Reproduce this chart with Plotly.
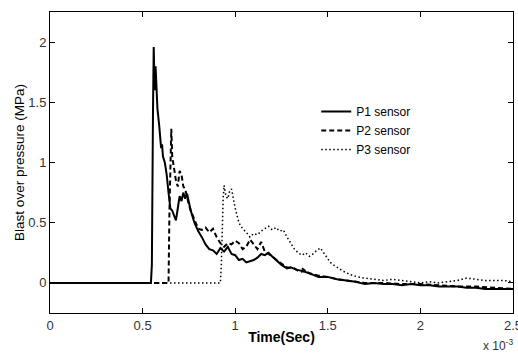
import plotly.graph_objects as go

# time in units of 1e-3 s
t_p1 = [0, 0.545, 0.550, 0.552, 0.556, 0.560, 0.565, 0.570, 0.575, 0.58, 0.59, 0.60, 0.605, 0.61, 0.62,
        0.63, 0.64, 0.65, 0.66, 0.67, 0.68, 0.69, 0.70, 0.71, 0.72, 0.73, 0.74, 0.75, 0.76, 0.78, 0.80,
        0.82, 0.84, 0.86, 0.88, 0.90, 0.92, 0.94, 0.96, 0.98, 1.00, 1.02, 1.04, 1.06, 1.08, 1.10, 1.12,
        1.14, 1.16, 1.18, 1.20, 1.22, 1.25, 1.28, 1.30, 1.33, 1.36, 1.40, 1.45, 1.50, 1.55, 1.60, 1.65,
        1.70, 1.75, 1.80, 1.85, 1.90, 1.95, 2.00, 2.05, 2.10, 2.15, 2.20, 2.25, 2.30, 2.35, 2.40, 2.45, 2.50]
p1 = [0, 0, 0.15, 1.1, 1.4, 1.96, 1.6, 1.8, 1.55, 1.45, 1.3, 1.12, 1.15, 1.05, 1.0,
      0.9, 0.75, 0.62, 0.6, 0.55, 0.52, 0.62, 0.72, 0.68, 0.75, 0.7, 0.74, 0.67, 0.6, 0.5, 0.43,
      0.38, 0.32, 0.28, 0.27, 0.24, 0.29, 0.26, 0.30, 0.24, 0.23, 0.19, 0.2, 0.17, 0.18, 0.19, 0.21,
      0.24, 0.23, 0.25, 0.22, 0.19, 0.15, 0.12, 0.13, 0.11, 0.10, 0.08, 0.05, 0.05, 0.03, 0.02, 0.01,
      -0.01, 0.0, -0.01, -0.01, -0.02, -0.01, -0.02, -0.02, -0.03, -0.03, -0.03, -0.04, -0.04, -0.05, -0.05, -0.05, -0.05]

t_p2 = [0, 0.64, 0.645, 0.65, 0.655, 0.66, 0.665, 0.67, 0.68, 0.69, 0.70, 0.71, 0.72, 0.73, 0.74,
        0.75, 0.76, 0.78, 0.80, 0.82, 0.84, 0.86, 0.88, 0.90, 0.92, 0.94, 0.96, 0.98, 1.00, 1.02,
        1.04, 1.06, 1.08, 1.10, 1.12, 1.14, 1.16, 1.18, 1.20, 1.24, 1.28, 1.32, 1.35, 1.38, 1.36,
        1.40, 1.45, 1.50, 1.55, 1.60, 1.70, 1.80, 1.90, 2.00, 2.10, 2.20, 2.30, 2.40, 2.50]
p2 = [0, 0, 0.6, 1.0, 1.28, 1.05, 1.0, 0.95, 0.85, 0.8, 0.93, 0.9, 0.8, 0.78, 0.7,
      0.65, 0.6, 0.52, 0.45, 0.44, 0.46, 0.42, 0.45, 0.38, 0.33, 0.3, 0.33, 0.32, 0.35, 0.33,
      0.28, 0.3, 0.36, 0.32, 0.28, 0.34, 0.26, 0.24, 0.22, 0.17, 0.13, 0.12, 0.09, 0.10, 0.12,
      0.08, 0.06, 0.05, 0.03, 0.02, 0.0, 0.0, -0.01, -0.01, -0.02, -0.03, -0.03, -0.04, -0.05]

t_p3 = [0, 0.92, 0.925, 0.93, 0.935, 0.94, 0.95, 0.96, 0.97, 0.98, 0.99, 1.00, 1.02, 1.04, 1.06,
        1.08, 1.10, 1.12, 1.14, 1.16, 1.18, 1.20, 1.22, 1.24, 1.26, 1.28, 1.30, 1.32, 1.34, 1.36,
        1.38, 1.40, 1.42, 1.44, 1.46, 1.48, 1.50, 1.52, 1.55, 1.58, 1.62, 1.66, 1.70, 1.75, 1.80,
        1.85, 1.90, 1.95, 2.0, 2.05, 2.1, 2.15, 2.2, 2.25, 2.3, 2.35, 2.4, 2.45, 2.5]
p3 = [0, 0, 0.15, 0.5, 0.7, 0.81, 0.72, 0.7, 0.76, 0.78, 0.7, 0.62, 0.5, 0.45, 0.42,
      0.38, 0.41, 0.40, 0.43, 0.45, 0.47, 0.44, 0.46, 0.43, 0.44, 0.38, 0.33, 0.28, 0.25, 0.23,
      0.25, 0.22, 0.24, 0.27, 0.29, 0.24, 0.2, 0.16, 0.13, 0.1, 0.07, 0.05, 0.04, 0.03, 0.02,
      0.03, 0.02, 0.01, 0.0, 0.01, 0.0, 0.01, 0.02, 0.04, 0.03, 0.02, 0.02, 0.02, 0.01]

x_ticks = [0, 0.5, 1, 1.5, 2, 2.5]
x_tick_labels = ["0", "0.5", "1", "1.5", "2", "2.5"]
y_ticks = [0, 0.5, 1, 1.5, 2]
y_tick_labels = ["0", "0.5", "1", "1.5", "2"]

FONT = "Liberation Sans, Arial, sans-serif"

fig = go.Figure()
fig.add_trace(go.Scatter(x=t_p1, y=p1, mode="lines", name="P1 sensor",
                         line=dict(color="black", width=2)))
fig.add_trace(go.Scatter(x=t_p2, y=p2, mode="lines", name="P2 sensor",
                         line=dict(color="black", width=2, dash="5px,3px")))
fig.add_trace(go.Scatter(x=t_p3, y=p3, mode="lines", name="P3 sensor",
                         line=dict(color="black", width=1.5, dash="1.5px,2.5px")))

axis_common = dict(showline=True, linecolor="black", linewidth=1, mirror="ticks",
                   ticks="inside", ticklen=5, tickcolor="black", showgrid=False,
                   zeroline=False, ticklabeloverflow="allow", automargin=False,
                   tickfont=dict(family=FONT, size=13, color="#333"))

fig.update_layout(
    width=518, height=354,
    margin=dict(l=50, r=5, t=12, b=41),
    paper_bgcolor="white", plot_bgcolor="white",
    font=dict(family=FONT, color="black"),
    xaxis=dict(range=[0, 2.5], tickvals=x_ticks, ticktext=x_tick_labels,
               title=dict(text="<b>Time(Sec)</b>", font=dict(size=14), standoff=0),
               **axis_common),
    yaxis=dict(range=[-0.25, 2.25], tickvals=y_ticks, ticktext=y_tick_labels,
               title=dict(text="Blast over pressure (MPa)", font=dict(size=13.5), standoff=0),
               **axis_common),
    legend=dict(x=0.575, y=0.718, xanchor="left", yanchor="top",
                bgcolor="rgba(0,0,0,0)", borderwidth=0, itemwidth=30,
                font=dict(family=FONT, size=12), tracegroupgap=0),
    showlegend=True,
)
fig.add_annotation(x=1, y=0, xref="paper", yref="paper", xanchor="right", yanchor="top",
                   yshift=-22, xshift=2, text="x 10<sup>-3</sup>", showarrow=False,
                   font=dict(family=FONT, size=12, color="#333"))

fig.write_html("out.html", config={"displayModeBar": False},
               post_script="document.body.style.margin='0';document.body.style.overflow='hidden';")
